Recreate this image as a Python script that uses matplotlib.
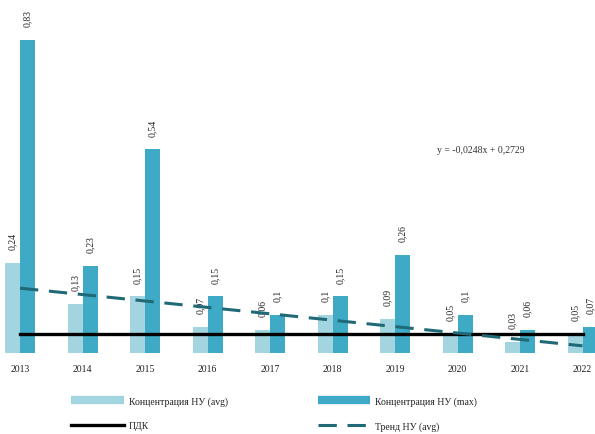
import matplotlib

matplotlib.use("Agg")
import matplotlib.pyplot as plt
from matplotlib.lines import Line2D

plt.rcParams["font.family"] = ["Liberation Serif", "DejaVu Serif"]

years = ["2013", "2014", "2015", "2016", "2017", "2018", "2019", "2020", "2021", "2022"]
avg_vals = [0.24, 0.13, 0.15, 0.07, 0.06, 0.1, 0.09, 0.05, 0.03, 0.05]
max_vals = [0.83, 0.23, 0.54, 0.15, 0.1, 0.15, 0.26, 0.1, 0.06, 0.07]
pdk_level = 0.05
trend_ends = [0.172, 0.019]          # trend line as drawn, first and last year
trend_text = "y = -0,0248x + 0,2729"

AVG_C = "#a3d5e1"
MAX_C = "#3eaac5"
TREND_C = "#1f6a76"

fig = plt.figure(figsize=(5.95, 4.35), dpi=100)
ax = fig.add_axes([0.0, 81 / 435, 1.0, 354 / 435])

x = list(range(len(years)))
w = 0.24
ax.bar([i - w / 2 for i in x], avg_vals, width=w, color=AVG_C, zorder=2)
ax.bar([i + w / 2 for i in x], max_vals, width=w, color=MAX_C, zorder=2)

fs = 7
for i in x:
    for dx, v in ((-w / 2, avg_vals[i]), (w / 2, max_vals[i])):
        ax.annotate(str(v).replace(".", ","), (i + dx, v), xytext=(0, 10),
                    textcoords="offset points", rotation=90, ha="center",
                    va="bottom", fontsize=fs, color="#222222", zorder=3)

ax.plot([x[0], x[-1]], [pdk_level, pdk_level], color="black", lw=2.4, zorder=4)
ax.plot([x[0], x[-1]], trend_ends, color=TREND_C, lw=2.2, ls=(0, (6, 3.5)), zorder=4)
ax.text(0.735, 0.576, trend_text, transform=ax.transAxes, fontsize=fs,
        color="#333333", ha="left", va="center")

ax.set_xlim(-0.32, 9.2)
ax.set_ylim(0, 354 / 377)
ax.set_xticks(x)
ax.set_xticklabels(years, fontsize=fs, color="#222222")
ax.tick_params(axis="x", length=0, pad=8)
ax.set_yticks([])
for s in ax.spines.values():
    s.set_visible(False)

handles = [
    Line2D([], [], color=AVG_C, lw=6, solid_capstyle="butt"),
    Line2D([], [], color="black", lw=2.4),
    Line2D([], [], color=MAX_C, lw=6, solid_capstyle="butt"),
    Line2D([], [], color=TREND_C, lw=2.2, ls=(0, (6, 3.5))),
]
labels = ["Концентрация НУ (avg)", "ПДК", "Концентрация НУ (max)", "Тренд НУ (avg)"]
leg = fig.legend(handles, labels, ncol=2, loc="center left", bbox_to_anchor=(0.105, 0.047),
                 frameon=False, fontsize=fs, handlelength=5.4, handletextpad=0.55,
                 columnspacing=9.2, labelspacing=1.6)
for t in leg.get_texts():
    t.set_color("#222222")

fig.savefig("out.png", dpi=100)
